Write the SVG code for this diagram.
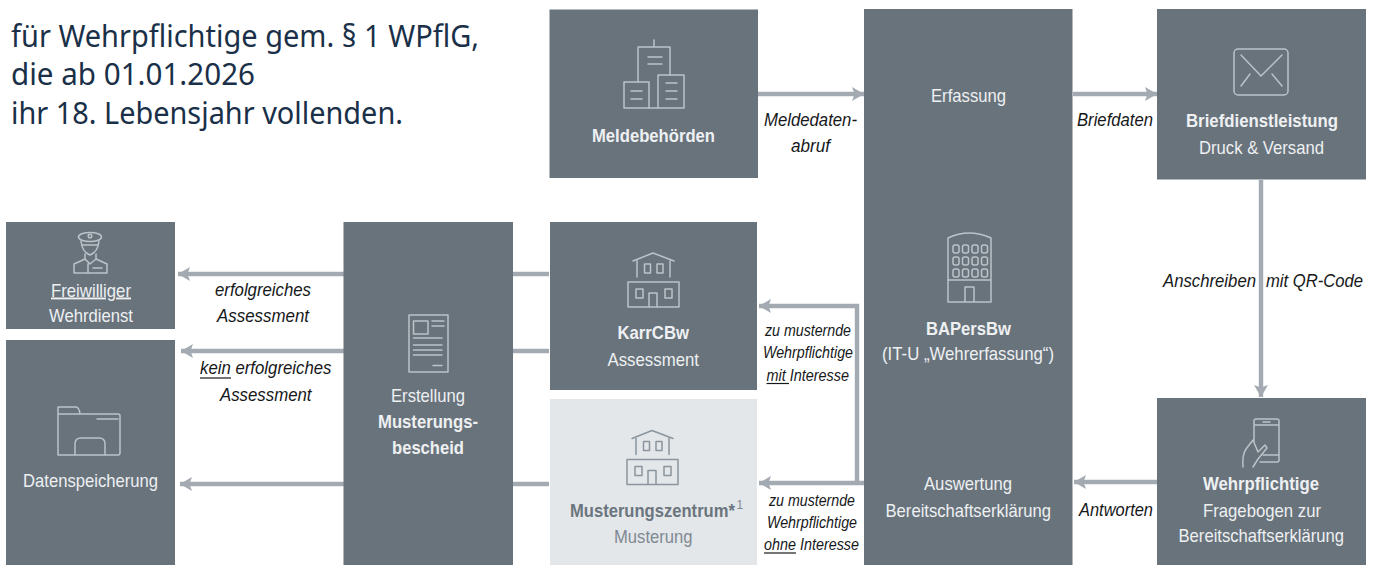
<svg xmlns="http://www.w3.org/2000/svg" width="1379" height="565" viewBox="0 0 1379 565">
<style>
text{font-family:"Liberation Sans",Arial,sans-serif;font-size:19px;fill:#eef0f2}
.b{font-weight:700}
.e{font-style:italic;fill:#16181a}
.s{font-size:16px}
.u{text-decoration:underline}
.ul{stroke:#16181a;stroke-width:1.2}
.top{font-family:"Noto Sans",sans-serif;font-size:30px;fill:#1a3048}
.box{fill:#68737c}
.light{fill:#e4e7ea}
.ic{fill:none;stroke:#bcc3c9;stroke-width:1.5;stroke-linejoin:round;stroke-linecap:round}
.icl{fill:none;stroke:#8b959d;stroke-width:1.5;stroke-linejoin:round;stroke-linecap:round}
.g1{fill:#6b757e}
.g2{fill:#7f8992}
.c{fill:none;stroke:#a3aab2;stroke-width:4.4}
</style>
<defs>
<marker id="ah" markerUnits="userSpaceOnUse" markerWidth="13" markerHeight="14" refX="12" refY="7" orient="auto"><path d="M0 0L12 7L0 14L2.500 7Z" fill="#a3aab2"/></marker>
<g id="house"><path d="M633 261L653 253L674 261M637 261V277M670 261V277"/><rect x="644.500" y="264" width="6" height="9"/><rect x="657" y="264" width="6" height="9"/><path d="M628 282H679V307H628ZM649 307V293H657V307"/><rect x="636" y="289" width="7" height="9"/><rect x="665" y="289" width="7" height="9"/></g>
</defs>
<rect width="1379" height="565" fill="#fff"/>
<g id="intro">
<text class="top" x="11" y="47" textLength="468" lengthAdjust="spacingAndGlyphs">für Wehrpflichtige gem. § 1 WPflG,</text>
<text class="top" x="11" y="85" textLength="244" lengthAdjust="spacingAndGlyphs">die ab 01.01.2026</text>
<text class="top" x="11" y="124" textLength="392" lengthAdjust="spacingAndGlyphs">ihr 18. Lebensjahr vollenden.</text>
</g>
<g id="connectors">
<path class="c" marker-end="url(#ah)" d="M758 94H864"/>
<path class="c" marker-end="url(#ah)" d="M1073 94H1157"/>
<path class="c" marker-end="url(#ah)" d="M1261 180V397"/>
<path class="c" marker-end="url(#ah)" d="M1157 482H1074"/>
<path class="c" marker-end="url(#ah)" d="M864 483H759"/>
<path class="c" marker-end="url(#ah)" d="M857 483V306H759"/>
<path class="c" d="M549 274H513M549 351H513M549 484H513"/>
<path class="c" marker-end="url(#ah)" d="M344 274H178"/>
<path class="c" marker-end="url(#ah)" d="M344 351H181"/>
<path class="c" marker-end="url(#ah)" d="M344 484H180"/>
</g>
<g id="meldebehoerden">
<rect class="box" x="549.500" y="9.500" width="208.500" height="168.500"/>
<g class="ic"><path d="M638 82V47H670V75M654 47V40M648 57H662M648 64H662M649 108H658"/><rect x="624" y="82" width="25" height="26"/><rect x="658" y="75" width="26" height="33"/><path d="M631 91H642M631 99H642M666 83H677M666 91H677M666 99H677"/></g>
<text class="b" x="592" y="142" textLength="123" lengthAdjust="spacingAndGlyphs">Meldebehörden</text>
</g>
<g id="bapersbw">
<rect class="box" x="864" y="9" width="208.500" height="556"/>
<text x="931" y="102" textLength="75" lengthAdjust="spacingAndGlyphs">Erfassung</text>
<g class="ic"><path d="M948 238Q969 228 991 238V302H948ZM948 280H991M965 302V287H974V302"/>
<rect x="953" y="245" width="6" height="8" rx="2"/><rect x="962.500" y="245" width="6" height="8" rx="2"/><rect x="972" y="245" width="6" height="8" rx="2"/><rect x="981.500" y="245" width="6" height="8" rx="2"/>
<rect x="953" y="257" width="6" height="8" rx="2"/><rect x="962.500" y="257" width="6" height="8" rx="2"/><rect x="972" y="257" width="6" height="8" rx="2"/><rect x="981.500" y="257" width="6" height="8" rx="2"/>
<rect x="953" y="269" width="6" height="8" rx="2"/><rect x="962.500" y="269" width="6" height="8" rx="2"/><rect x="972" y="269" width="6" height="8" rx="2"/><rect x="981.500" y="269" width="6" height="8" rx="2"/></g>
<text class="b" x="926" y="335" textLength="85" lengthAdjust="spacingAndGlyphs">BAPersBw</text>
<text x="882" y="360" textLength="172" lengthAdjust="spacingAndGlyphs">(IT-U „Wehrerfassung“)</text>
<text x="924" y="490" textLength="88" lengthAdjust="spacingAndGlyphs">Auswertung</text>
<text x="885.500" y="516.500" textLength="165.500" lengthAdjust="spacingAndGlyphs">Bereitschaftserklärung</text>
</g>
<g id="briefdienstleistung">
<rect class="box" x="1157" y="9" width="209" height="170.500"/>
<g class="ic"><rect x="1234" y="49" width="54" height="46" rx="4"/><path d="M1241 55L1261 76L1282 55M1241 86L1250 74M1282 86L1272 74"/></g>
<text class="b" x="1186" y="127" textLength="152" lengthAdjust="spacingAndGlyphs">Briefdienstleistung</text>
<text x="1199" y="154" textLength="125" lengthAdjust="spacingAndGlyphs">Druck &amp; Versand</text>
</g>
<g id="wehrpflichtige">
<rect class="box" x="1157" y="398" width="209" height="167"/>
<g class="ic"><path d="M1254 441V421Q1254 419 1256 419H1277Q1279 419 1279 421V460Q1279 462 1277 462H1260M1254 425H1279M1263 455H1279M1263 422H1270"/><path d="M1243 467Q1242 455 1246 449L1253 440L1258 452L1265 445L1267 448L1258 459L1253 467"/></g>
<text class="b" x="1203" y="490" textLength="116" lengthAdjust="spacingAndGlyphs">Wehrpflichtige</text>
<text x="1203" y="516.500" textLength="118" lengthAdjust="spacingAndGlyphs">Fragebogen zur</text>
<text x="1178.500" y="542" textLength="165.500" lengthAdjust="spacingAndGlyphs">Bereitschaftserklärung</text>
</g>
<g id="karrcbw">
<rect class="box" x="550" y="222" width="207" height="168"/>
<use href="#house" class="ic"/>
<text class="b" x="617.500" y="339" textLength="71.500" lengthAdjust="spacingAndGlyphs">KarrCBw</text>
<text x="607.500" y="366" textLength="91.500" lengthAdjust="spacingAndGlyphs">Assessment</text>
</g>
<g id="musterungszentrum">
<rect class="light" x="550" y="399" width="207" height="166"/>
<use href="#house" class="icl" transform="translate(-1 177.500)"/>
<text class="b g1" transform="translate(570 516.500) scale(.873 1)">Musterungszentrum*</text>
<text class="g2" x="736.500" y="509" style="font-size:12px">1</text>
<text class="g2" x="614" y="543" textLength="78.500" lengthAdjust="spacingAndGlyphs">Musterung</text>
</g>
<g id="erstellung">
<rect class="box" x="343.500" y="222" width="169.500" height="343"/>
<g class="ic"><rect x="409" y="315" width="39" height="57"/><rect x="413.500" y="321" width="14.500" height="13"/><path d="M432 321H444M432 326H444M413.500 338H442M413.500 345H442M413.500 350H442M413.500 355H442M433 365.500H442"/></g>
<text x="391" y="402" textLength="74" lengthAdjust="spacingAndGlyphs">Erstellung</text>
<text class="b" x="378" y="428" textLength="100" lengthAdjust="spacingAndGlyphs">Musterungs-</text>
<text class="b" x="392" y="454" textLength="72" lengthAdjust="spacingAndGlyphs">bescheid</text>
</g>
<g id="freiwilliger">
<rect class="box" x="6" y="222" width="169" height="107"/>
<g class="ic"><ellipse cx="90" cy="237" rx="11.500" ry="4.500"/><circle cx="90" cy="236" r="1.800"/><path d="M81 241Q82 252 90 255Q98 252 99 241M82 245H98M85 254V259L74 264V273H107V264L96 259V254M85 259L90 264L96 259M88 264V273M93 268H102"/></g>
<text class="u" x="51" y="296.500" textLength="80" lengthAdjust="spacingAndGlyphs">Freiwilliger</text>
<text x="49" y="321.500" textLength="84" lengthAdjust="spacingAndGlyphs">Wehrdienst</text>
</g>
<g id="datenspeicherung">
<rect class="box" x="6" y="340" width="169" height="225"/>
<g class="ic"><path d="M58 455V407H76Q79 407 80 414H118Q120 414 120 416V453Q120 455 118 455ZM58 414H80M97 419H118M75 455V444Q75 438 81 438H99Q105 438 105 444V455"/></g>
<text x="23" y="487" textLength="135" lengthAdjust="spacingAndGlyphs">Datenspeicherung</text>
</g>
<g id="labels">
<text class="e" x="764" y="126" textLength="93" lengthAdjust="spacingAndGlyphs">Meldedaten-</text>
<text class="e" x="791" y="152" textLength="39" lengthAdjust="spacingAndGlyphs">abruf</text>
<text class="e" x="1077" y="126" textLength="76" lengthAdjust="spacingAndGlyphs">Briefdaten</text>
<text class="e" x="1163" y="287" textLength="93" lengthAdjust="spacingAndGlyphs">Anschreiben</text>
<text class="e" x="1266" y="287" textLength="97" lengthAdjust="spacingAndGlyphs">mit QR-Code</text>
<text class="e" x="1079" y="516" textLength="74" lengthAdjust="spacingAndGlyphs">Antworten</text>
<text class="e s" x="765" y="336" textLength="86" lengthAdjust="spacingAndGlyphs">zu musternde</text>
<text class="e s" x="763" y="358" textLength="90" lengthAdjust="spacingAndGlyphs">Wehrpflichtige</text>
<text class="e s" x="766.500" y="380.500" textLength="82.500" lengthAdjust="spacingAndGlyphs">mit Interesse</text>
<path class="ul" d="M766.500 383.500H789"/>
<text class="e s" x="769" y="505.500" textLength="86" lengthAdjust="spacingAndGlyphs">zu musternde</text>
<text class="e s" x="767" y="527.500" textLength="90" lengthAdjust="spacingAndGlyphs">Wehrpflichtige</text>
<text class="e s" x="764" y="550" textLength="95" lengthAdjust="spacingAndGlyphs">ohne Interesse</text>
<path class="ul" d="M764 553H796"/>
<text class="e" x="215" y="296" textLength="96" lengthAdjust="spacingAndGlyphs">erfolgreiches</text>
<text class="e" x="217" y="321.500" textLength="92" lengthAdjust="spacingAndGlyphs">Assessment</text>
<text class="e" x="200" y="374" textLength="131.500" lengthAdjust="spacingAndGlyphs">kein erfolgreiches</text>
<path class="ul" d="M200 378H231"/>
<text class="e" x="220" y="400.500" textLength="91.500" lengthAdjust="spacingAndGlyphs">Assessment</text>
</g>
</svg>
